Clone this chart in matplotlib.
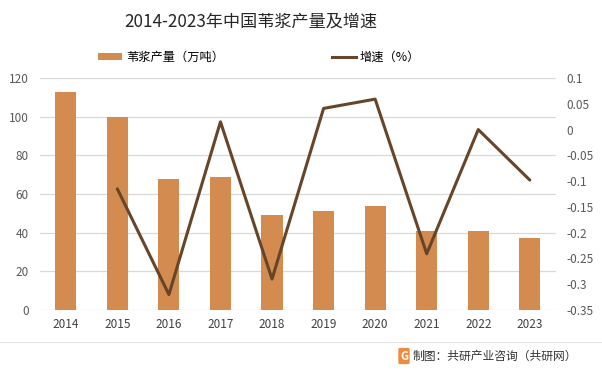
import numpy as np
import matplotlib.pyplot as plt
from matplotlib.patches import Patch
from matplotlib.lines import Line2D

plt.rcParams['font.family'] = ['Noto Sans CJK SC', 'DejaVu Sans']

# ── Data ──────────────────────────────────────────────────────────────
years = ['2014', '2015', '2016', '2017', '2018', '2019', '2020', '2021', '2022', '2023']
output = [113, 100, 68, 69, 49, 51, 54, 41, 41, 37]          # 万吨
growth = [-0.115, -0.32, 0.015, -0.29, 0.041, 0.059, -0.241, 0.0, -0.098]
right_ticks = [-0.35, -0.3, -0.25, -0.2, -0.15, -0.1, -0.05, 0, 0.05, 0.1]
right_labels = ['-0.35', '-0.3', '-0.25', '-0.2', '-0.15', '-0.1', '-0.05', '0', '0.05', '0.1']

BAR_C = '#D38B4F'
LINE_C = '#664529'
GRID_C = '#D9D9D9'
TICK_C = '#595959'

fig = plt.figure(figsize=(6.02, 3.74), dpi=100)
fig.patch.set_facecolor('white')
ax = fig.add_axes([40 / 602, 1 - 310 / 374, 515.6 / 602, 232 / 374])
ax2 = ax.twinx()

x = np.arange(len(years))
ax.bar(x, output, width=0.41, color=BAR_C, zorder=2)
ax.set_ylim(0, 120)
ax.set_yticks(range(0, 121, 20))
ax.set_xlim(-0.5, len(years) - 0.5)
ax.set_xticks(x)
ax.set_xticklabels(years)
ax.grid(axis='y', color=GRID_C, linewidth=0.9, zorder=0)
ax.set_axisbelow(True)

gx = np.arange(1, len(years))
ax2.plot(gx, growth, color=LINE_C, linewidth=2.2, solid_capstyle='round', zorder=3)
ax2.set_ylim(-0.35, 0.1)
ax2.set_yticks(right_ticks)
ax2.set_yticklabels(right_labels)

for a in (ax, ax2):
    for s in a.spines.values():
        s.set_visible(False)
    a.tick_params(length=0, labelsize=8.5, labelcolor=TICK_C)
ax.tick_params(axis='x', pad=6, labelcolor='#404040')
ax.tick_params(axis='y', pad=8)
ax2.tick_params(axis='y', pad=8)

# title
fig.text(251 / 602, 1 - 22 / 374, '2014-2023年中国苇浆产量及增速', ha='center', va='center',
         fontsize=12.3, color='#262626')

# legend
handles = [Patch(facecolor=BAR_C, edgecolor='none'),
           Line2D([0], [0], color=LINE_C, linewidth=2.2)]
fig.legend(handles, ['苇浆产量（万吨）', '增速（%）'], ncol=2, frameon=False,
           loc='center', bbox_to_anchor=(259 / 602, 1 - 57 / 374), fontsize=8.8,
           columnspacing=8.8, handlelength=2.0, handleheight=0.5, handletextpad=0.3)

# footer
fig.add_artist(Line2D([0, 1], [1 - 342 / 374] * 2, color='#E6E6E6', linewidth=0.8))
fig.text(413 / 602, 1 - 356 / 374, '制图：共研产业咨询（共研网）', ha='left', va='center',
         fontsize=8.5, color='#333333')
fig.text(404 / 602, 1 - 356 / 374, 'G', ha='center', va='center', fontsize=8,
         color='white', fontweight='bold',
         bbox=dict(boxstyle='round,pad=0.15', facecolor='#F08A3C', edgecolor='none'))

fig.savefig('out.png', dpi=100, facecolor='white')
